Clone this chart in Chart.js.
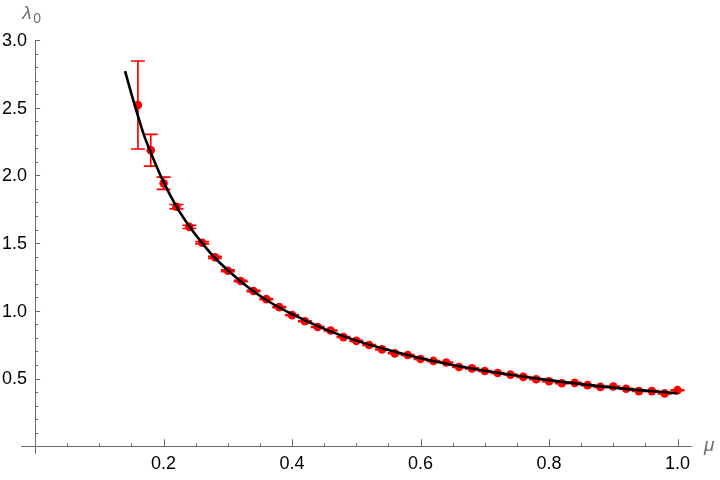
<!DOCTYPE html>
<html>
<head>
<meta charset="utf-8">
<script src="https://cdn.jsdelivr.net/npm/chart.js@4/dist/chart.umd.min.js"></script>
<style>
  html, body { margin: 0; padding: 0; background: #fff; }
  #wrap { width: 720px; height: 480px; }
</style>
</head>
<body>
<div id="wrap"><canvas id="plot" width="720" height="480"></canvas></div>
<script>
// measured points (mu, lambda0) with error bar half-widths
const muValues = [0.16, 0.18, 0.20, 0.22, 0.24, 0.26, 0.28, 0.30, 0.32, 0.34,
                  0.36, 0.38, 0.40, 0.42, 0.44, 0.46, 0.48, 0.50, 0.52, 0.54,
                  0.56, 0.58, 0.60, 0.62, 0.64, 0.66, 0.68, 0.70, 0.72, 0.74,
                  0.76, 0.78, 0.80, 0.82, 0.84, 0.86, 0.88, 0.90, 0.92, 0.94,
                  0.96, 0.98, 1.00];
const lambdaValues = [2.52, 2.186, 1.942, 1.769, 1.62, 1.503, 1.395, 1.296, 1.22, 1.146,
                      1.086, 1.027, 0.968, 0.923, 0.880, 0.855, 0.806, 0.778, 0.748, 0.715,
                      0.686, 0.674, 0.644, 0.630, 0.618, 0.585, 0.575, 0.556, 0.541, 0.529,
                      0.512, 0.495, 0.480, 0.465, 0.468, 0.451, 0.438, 0.441, 0.424, 0.407,
                      0.407, 0.390, 0.414];
const lambdaErrors = [0.325, 0.117, 0.045, 0.016, 0.012, 0.008, 0.007, 0.006, 0.005, 0.005,
                      0.004, 0.004, 0.004, 0.003, 0.003, 0.003, 0.003, 0.003, 0.003, 0.003,
                      0.003, 0.003, 0.003, 0.003, 0.003, 0.003, 0.003, 0.003, 0.003, 0.003,
                      0.003, 0.003, 0.003, 0.003, 0.003, 0.003, 0.003, 0.003, 0.003, 0.003,
                      0.003, 0.003, 0.003];

// fitted curve
const fitMu = [0.14, 0.15, 0.16, 0.17, 0.18, 0.20, 0.22, 0.24, 0.26, 0.28, 0.30,
               0.33, 0.36, 0.40, 0.45, 0.50, 0.55, 0.60, 0.70, 0.80, 0.90, 1.00];
const fitLambda = [2.77, 2.60, 2.44, 2.29, 2.17, 1.95, 1.77, 1.625, 1.50, 1.39, 1.30,
                   1.18, 1.08, 0.975, 0.867, 0.78, 0.71, 0.65, 0.557, 0.488, 0.433, 0.39];

// tick labels
const xTickLabels = [0.2, 0.4, 0.6, 0.8, 1.0];
const yTickLabels = [0.5, 1.0, 1.5, 2.0, 2.5, 3.0];

const axisGray = '#6a6a6a';
const fontFamily = '"Liberation Sans", Arial, sans-serif';
const tickFont = { family: fontFamily, size: 18 };

const points = muValues.map((m, i) => ({ x: m, y: lambdaValues[i] }));
const curve = fitMu.map((m, i) => ({ x: m, y: fitLambda[i] }));

function near(list, v) {
  return list.some(t => Math.abs(t - v) < 1e-6);
}

// error bars under the points
const errorBars = {
  id: 'errorBars',
  beforeDatasetsDraw(chart) {
    const ctx = chart.ctx;
    const ys = chart.scales.y;
    const meta = chart.getDatasetMeta(1);
    ctx.save();
    ctx.strokeStyle = '#ff0000';
    ctx.lineWidth = 1.7;
    meta.data.forEach((pt, i) => {
      const top = ys.getPixelForValue(lambdaValues[i] + lambdaErrors[i]);
      const bot = ys.getPixelForValue(lambdaValues[i] - lambdaErrors[i]);
      ctx.beginPath();
      ctx.moveTo(pt.x, top); ctx.lineTo(pt.x, bot);
      ctx.moveTo(pt.x - 7, top); ctx.lineTo(pt.x + 7, top);
      ctx.moveTo(pt.x - 7, bot); ctx.lineTo(pt.x + 7, bot);
      ctx.stroke();
    });
    ctx.restore();
  }
};

// inward Mathematica-style ticks, y tick labels and axis labels
const axisDecor = {
  id: 'axisDecor',
  afterDraw(chart) {
    const ctx = chart.ctx;
    const xs = chart.scales.x, ys = chart.scales.y;
    const x0 = xs.getPixelForValue(0);
    const y0 = ys.getPixelForValue(0);
    ctx.save();
    ctx.strokeStyle = axisGray;
    ctx.lineWidth = 1;
    ctx.beginPath();
    xs.ticks.forEach(t => {
      if (t.value <= 0.001) return;
      const px = Math.round(xs.getPixelForValue(t.value)) + 0.5;
      const len = near(xTickLabels, t.value) ? 7 : 3;
      ctx.moveTo(px, y0); ctx.lineTo(px, y0 - len);
    });
    ys.ticks.forEach(t => {
      if (t.value <= 0.001) return;
      const py = Math.round(ys.getPixelForValue(t.value)) + 0.5;
      const len = near(yTickLabels, t.value) ? 5 : 3;
      ctx.moveTo(x0, py); ctx.lineTo(x0 + len, py);
    });
    ctx.stroke();

    ctx.fillStyle = '#000000';
    ctx.font = '18px ' + fontFamily;
    ctx.textAlign = 'right';
    ctx.textBaseline = 'middle';
    yTickLabels.forEach(v => {
      ctx.fillText(v.toFixed(1), x0 - 8, ys.getPixelForValue(v) + 1);
    });

    ctx.fillStyle = '#6e6e6e';
    ctx.textBaseline = 'alphabetic';
    ctx.textAlign = 'left';
    ctx.font = 'italic 19px ' + fontFamily;
    ctx.fillText('λ', x0 - 13, 19);
    ctx.font = '14px ' + fontFamily;
    ctx.fillText('0', x0 - 2, 23);
    ctx.font = 'italic 19px ' + fontFamily;
    ctx.fillText('μ', xs.right + 13, y0 + 5);
    ctx.restore();
  }
};

new Chart(document.getElementById('plot'), {
  type: 'scatter',
  data: {
    datasets: [{
      label: 'fit',
      data: curve,
      showLine: true,
      borderColor: '#000000',
      borderWidth: 2.6,
      pointRadius: 0,
      cubicInterpolationMode: 'monotone',
      order: 0
    }, {
      label: 'data',
      data: points,
      backgroundColor: '#ff0000',
      borderWidth: 0,
      pointRadius: 4.3,
      order: 1
    }]
  },
  options: {
    responsive: false,
    animation: false,
    layout: { padding: { left: 21, right: 29, top: 40, bottom: 27 } },
    plugins: {
      legend: { display: false },
      tooltip: { enabled: false }
    },
    scales: {
      x: {
        type: 'linear',
        min: -0.022,
        max: 1.021,
        position: { y: 0 },
        afterBuildTicks(scale) {
          const t = [];
          for (let i = 1; i <= 20; i++) t.push({ value: +(i * 0.05).toFixed(2) });
          scale.ticks = t;
        },
        ticks: {
          color: '#000000',
          font: tickFont,
          padding: 7,
          maxRotation: 0,
          autoSkip: false,
          callback: (v) => near(xTickLabels, v) ? v.toFixed(1) : ''
        },
        grid: { display: true, drawOnChartArea: false, drawTicks: false },
        border: { display: true, color: axisGray, width: 1 }
      },
      y: {
        type: 'linear',
        min: -0.05,
        max: 3.0,
        position: { x: 0 },
        afterBuildTicks(scale) {
          const t = [];
          for (let i = 1; i <= 30; i++) t.push({ value: +(i * 0.1).toFixed(1) });
          scale.ticks = t;
        },
        ticks: { display: false },
        grid: { display: true, drawOnChartArea: false, drawTicks: false },
        border: { display: true, color: axisGray, width: 1 }
      }
    }
  },
  plugins: [errorBars, axisDecor]
});
</script>
</body>
</html>
